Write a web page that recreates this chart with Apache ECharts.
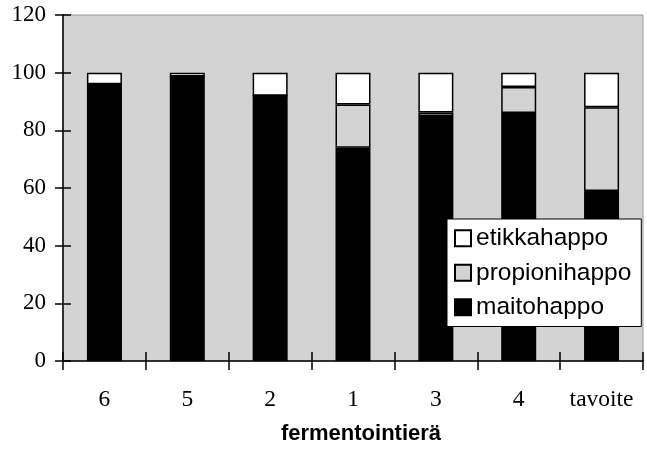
<!DOCTYPE html>
<html>
<head>
<meta charset="utf-8">
<script src="https://cdn.jsdelivr.net/npm/echarts@6/dist/echarts.min.js"></script>
<style>html,body{margin:0;padding:0;background:#fff;}#c{width:647px;height:450px;}</style>
</head>
<body>
<div id="c"></div>
<script>
const categories = ['6', '5', '2', '1', '3', '4', 'tavoite'];
const maitohappo = [96, 98.7, 92, 74, 85, 86, 59];
const propionihappo = [0, 0, 0, 15, 1.2, 9, 29];
const etikkahappo = [4, 1.3, 8, 11, 13.8, 5, 12];
const yTicks = { min: 0, max: 120, interval: 20 };

const chart = echarts.init(document.getElementById('c'), null, { renderer: 'canvas' });
const bw = 1.5;
const axisColor = '#000';
chart.setOption({
  animation: false,
  backgroundColor: '#fff',
  grid: {
    left: 63, right: 4, top: 15, bottom: 87,
    show: true, backgroundColor: '#d3d3d3', borderColor: '#9a9a9a', borderWidth: 1
  },
  legend: {
    data: ['etikkahappo', 'propionihappo', 'maitohappo'],
    orient: 'vertical',
    left: 447, top: 219,
    backgroundColor: '#fff', borderColor: '#000', borderWidth: 1,
    padding: [6.75, 10, 6.75, 7],
    itemWidth: 16, itemHeight: 16, itemGap: 9.5,
    icon: 'rect',
    textStyle: { fontFamily: 'Liberation Sans', fontSize: 24.5, color: '#000' },
    selectedMode: false
  },
  xAxis: [
    {
      type: 'category', data: categories, position: 'bottom',
      name: 'fermentointierä', nameLocation: 'middle', nameGap: 62,
      nameTextStyle: { fontFamily: 'Liberation Sans', fontWeight: 'bold', fontSize: 22, color: '#000', padding: [0, 0, 0, 16] },
      axisLine: { lineStyle: { color: axisColor, width: bw } },
      axisTick: { show: true, inside: false, length: 9, interval: 0, lineStyle: { color: axisColor, width: bw } },
      axisLabel: { fontFamily: 'Liberation Serif', fontSize: 23.5, color: '#000', margin: 27, interval: 0, hideOverlap: false },
      splitLine: { show: false }
    },
    {
      type: 'category', data: categories, position: 'bottom',
      axisLine: { show: false },
      axisTick: { show: true, inside: true, length: 9, interval: 0, lineStyle: { color: axisColor, width: bw } },
      axisLabel: { show: false },
      splitLine: { show: false }
    }
  ],
  yAxis: [
    {
      type: 'value', min: yTicks.min, max: yTicks.max, interval: yTicks.interval, position: 'left',
      axisLine: { show: true, lineStyle: { color: axisColor, width: bw } },
      axisTick: { show: true, inside: false, length: 8, lineStyle: { color: axisColor, width: bw } },
      axisLabel: { fontFamily: 'Liberation Serif', fontSize: 23, color: '#000', margin: 17 },
      splitLine: { show: false }
    },
    {
      type: 'value', min: yTicks.min, max: yTicks.max, interval: yTicks.interval, position: 'left',
      axisLine: { show: false },
      axisTick: { show: true, inside: true, length: 8, lineStyle: { color: axisColor, width: bw } },
      axisLabel: { show: false },
      splitLine: { show: false }
    }
  ],
  series: [
    {
      name: 'maitohappo', type: 'bar', stack: 'a', data: maitohappo, barWidth: 35,
      itemStyle: { color: '#000', borderColor: '#000', borderWidth: bw }
    },
    {
      name: 'propionihappo', type: 'bar', stack: 'a', data: propionihappo, barWidth: 35,
      itemStyle: { color: '#d3d3d3', borderColor: '#000', borderWidth: bw }
    },
    {
      name: 'etikkahappo', type: 'bar', stack: 'a', data: etikkahappo, barWidth: 35,
      itemStyle: { color: '#fff', borderColor: '#000', borderWidth: bw }
    }
  ]
});
</script>
</body>
</html>
